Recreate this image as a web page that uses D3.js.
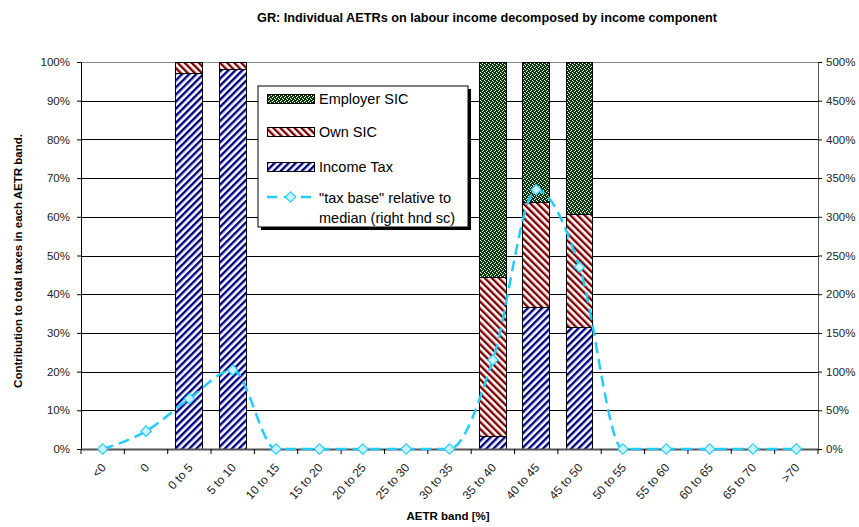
<!DOCTYPE html>
<html>
<head>
<meta charset="utf-8">
<script src="https://cdn.jsdelivr.net/npm/d3@7"></script>
<style>
  body { margin: 0; background: #fff; }
  svg { font-family: "Liberation Sans", Arial, sans-serif; }
</style>
</head>
<body>
<div id="chart"></div>
<script>
// data
var bands = ["<0", "0", "0 to 5", "5 to 10", "10 to 15", "15 to 20", "20 to 25", "25 to 30",
  "30 to 35", "35 to 40", "40 to 45", "45 to 50", "50 to 55", "55 to 60", "60 to 65", "65 to 70", ">70"];
var incomeTax   = [0, 0, 0.97, 0.98, 0, 0, 0, 0, 0, 0.032, 0.366, 0.313, 0, 0, 0, 0, 0];
var ownSIC      = [0, 0, 0.03, 0.02, 0, 0, 0, 0, 0, 0.412, 0.270, 0.292, 0, 0, 0, 0, 0];
var employerSIC = [0, 0, 0, 0, 0, 0, 0, 0, 0, 0.556, 0.364, 0.395, 0, 0, 0, 0, 0];
var taxBase     = [0, 0.23, 0.65, 1.02, 0, 0, 0, 0, 0, 1.15, 3.35, 2.35, 0, 0, 0, 0, 0];
var leftTicks  = [0, 0.1, 0.2, 0.3, 0.4, 0.5, 0.6, 0.7, 0.8, 0.9, 1];
var rightTicks = [0, 0.5, 1, 1.5, 2, 2.5, 3, 3.5, 4, 4.5, 5];

var W = 859, H = 527;
var plotL = 81, plotR = 818, plotT = 62, plotB = 449;

var svg = d3.select("#chart").append("svg")
    .attr("width", W)
    .attr("height", H);

// patterns
var defs = svg.append("defs");

var pTax = defs.append("pattern")
    .attr("id", "pTax")
    .attr("patternUnits", "userSpaceOnUse")
    .attr("width", 5).attr("height", 5)
    .attr("patternTransform", "rotate(45)");
pTax.append("rect").attr("width", 5).attr("height", 5).attr("fill", "#fff");
pTax.append("rect").attr("width", 2.4).attr("height", 5).attr("fill", "#000080");

var pOwn = defs.append("pattern")
    .attr("id", "pOwn")
    .attr("patternUnits", "userSpaceOnUse")
    .attr("width", 5).attr("height", 5)
    .attr("patternTransform", "rotate(-45)");
pOwn.append("rect").attr("width", 5).attr("height", 5).attr("fill", "#fff");
pOwn.append("rect").attr("width", 2.4).attr("height", 5).attr("fill", "#800000");

var pEmp = defs.append("pattern")
    .attr("id", "pEmp")
    .attr("patternUnits", "userSpaceOnUse")
    .attr("width", 4).attr("height", 4);
pEmp.append("rect").attr("width", 4).attr("height", 4).attr("fill", "#0b3a0b");
pEmp.append("rect").attr("x", 0).attr("y", 0).attr("width", 1).attr("height", 1).attr("fill", "#fff");
pEmp.append("rect").attr("x", 1).attr("y", 1).attr("width", 1).attr("height", 1).attr("fill", "#fff");
pEmp.append("rect").attr("x", 3).attr("y", 2).attr("width", 1).attr("height", 1).attr("fill", "#fff");
pEmp.append("rect").attr("x", 2).attr("y", 3).attr("width", 1).attr("height", 1).attr("fill", "#fff");

// scales
var x = d3.scaleBand()
    .domain(bands)
    .range([plotL, plotR])
    .paddingInner(0.38)
    .paddingOuter(0.19);
var step = x.step();
var xc = function (b) { return x(b) + x.bandwidth() / 2; };

var y = d3.scaleLinear().domain([0, 1]).range([plotB, plotT]);
var y2 = d3.scaleLinear().domain([0, 5]).range([plotB, plotT]);

// gridlines
svg.append("g")
  .selectAll("line")
  .data(leftTicks.slice(1))
  .enter()
  .append("line")
    .attr("x1", plotL).attr("x2", plotR)
    .attr("y1", function (d) { return Math.round(y(d)) + 0.5; })
    .attr("y2", function (d) { return Math.round(y(d)) + 0.5; })
    .style("stroke", function (d) { return d === 1 ? "#8a8a8a" : "#000"; })
    .style("stroke-width", 1);

// stacked bars
var rows = bands.map(function (b, i) {
  return { band: b, tax: incomeTax[i], own: ownSIC[i], emp: employerSIC[i] };
});
var stack = d3.stack().keys(["tax", "own", "emp"])(rows);
var fills = { tax: "url(#pTax)", own: "url(#pOwn)", emp: "url(#pEmp)" };

svg.append("g")
  .selectAll("g")
  .data(stack)
  .enter()
  .append("g")
    .attr("fill", function (s) { return fills[s.key]; })
  .selectAll("rect")
  .data(function (s) { return s.filter(function (d) { return d[1] - d[0] > 0; }); })
  .enter()
  .append("rect")
    .attr("x", function (d) { return x(d.data.band); })
    .attr("y", function (d) { return y(d[1]); })
    .attr("width", x.bandwidth())
    .attr("height", function (d) { return y(d[0]) - y(d[1]); })
    .style("stroke", "#000")
    .style("stroke-width", 1)
    .attr("shape-rendering", "crispEdges");

// left axis
var yAxis = svg.append("g")
    .attr("transform", "translate(" + plotL + ",0)")
    .call(d3.axisLeft(y).tickValues(leftTicks).tickFormat(d3.format(".0%")).tickSize(4).tickPadding(7));
yAxis.select(".domain").attr("stroke", "#000");
yAxis.selectAll("text").style("font-size", "11.5px").style("fill", "#222").style("font-family", "Liberation Sans, Arial, sans-serif");

// right axis
var y2Axis = svg.append("g")
    .attr("transform", "translate(" + plotR + ",0)")
    .call(d3.axisRight(y2).tickValues(rightTicks).tickFormat(d3.format(".0%")).tickSize(4).tickPadding(4));
y2Axis.select(".domain").attr("stroke", "#555");
y2Axis.selectAll("text").style("font-size", "11.5px").style("fill", "#222").style("font-family", "Liberation Sans, Arial, sans-serif");

// x axis
var xAxis = svg.append("g")
    .attr("transform", "translate(0," + plotB + ")")
    .call(d3.axisBottom(x).tickSize(0).tickPadding(0));
xAxis.select(".domain").attr("stroke", "#555").attr("stroke-width", 2);
xAxis.selectAll("text")
    .style("font-size", "12px")
    .style("fill", "#222")
    .style("font-family", "Liberation Sans, Arial, sans-serif")
    .attr("text-anchor", "end")
    .attr("y", 0)
    .attr("dy", 0)
    .attr("transform", "translate(4,19) rotate(-48)");

// small ticks between categories
svg.append("g")
  .selectAll("line")
  .data(d3.range(bands.length + 1))
  .enter()
  .append("line")
    .attr("x1", function (i) { return plotL + i * step; })
    .attr("x2", function (i) { return plotL + i * step; })
    .attr("y1", plotB)
    .attr("y2", plotB + 5)
    .style("stroke", "#000");

// tax base line (right axis)
var line = d3.line()
    .x(function (d, i) { return xc(bands[i]); })
    .y(function (d) { return y2(d); })
    .curve(d3.curveMonotoneX);

svg.append("path")
    .datum(taxBase)
    .attr("d", line)
    .style("fill", "none")
    .style("stroke", "#22ccff")
    .style("stroke-width", 2.5)
    .style("stroke-dasharray", "11,6");

svg.append("g")
  .selectAll("path")
  .data(taxBase)
  .enter()
  .append("path")
    .attr("d", d3.symbol().type(d3.symbolSquare).size(55))
    .attr("transform", function (d, i) {
      return "translate(" + xc(bands[i]) + "," + y2(d) + ") rotate(45)";
    })
    .style("fill", "#c8f4ff")
    .style("stroke", "#22ccff")
    .style("stroke-width", 1.2);

// legend
var lg = svg.append("g").attr("transform", "translate(258,86)");
lg.append("rect").attr("x", 3).attr("y", 3).attr("width", 210).attr("height", 141).attr("fill", "#000");
lg.append("rect").attr("width", 210).attr("height", 141).attr("fill", "#fff").style("stroke", "#000");

var legendItems = [["Employer SIC", "url(#pEmp)", 8], ["Own SIC", "url(#pOwn)", 41], ["Income Tax", "url(#pTax)", 76]];
legendItems.forEach(function (it) {
  lg.append("rect")
      .attr("x", 9).attr("y", it[2])
      .attr("width", 47).attr("height", 9)
      .attr("fill", it[1])
      .style("stroke", "#000")
      .attr("shape-rendering", "crispEdges");
  lg.append("text")
      .attr("x", 61).attr("y", it[2] + 10)
      .style("font-size", "14.5px")
      .text(it[0]);
});
lg.append("line")
    .attr("x1", 9).attr("x2", 56)
    .attr("y1", 111).attr("y2", 111)
    .style("stroke", "#22ccff").style("stroke-width", 2.5)
    .style("stroke-dasharray", "10,7");
lg.append("path")
    .attr("d", d3.symbol().type(d3.symbolSquare).size(55))
    .attr("transform", "translate(32.5,111) rotate(45)")
    .style("fill", "#c8f4ff").style("stroke", "#22ccff").style("stroke-width", 1.2);
lg.append("text").attr("x", 61).attr("y", 117).style("font-size", "14.5px").text("\"tax base\" relative to");
lg.append("text").attr("x", 61).attr("y", 137).style("font-size", "14.5px").text("median (right hnd sc)");

// titles
svg.append("text")
    .attr("x", 487).attr("y", 22)
    .attr("text-anchor", "middle")
    .style("font-size", "12.7px")
    .style("font-weight", "bold")
    .text("GR: Individual AETRs on labour income decomposed by income component");

svg.append("text")
    .attr("transform", "translate(22,261) rotate(-90)")
    .attr("text-anchor", "middle")
    .style("font-size", "11.5px")
    .style("font-weight", "bold")
    .text("Contribution to total taxes in each AETR band.");

svg.append("text")
    .attr("x", 448).attr("y", 520)
    .attr("text-anchor", "middle")
    .style("font-size", "11.5px")
    .style("font-weight", "bold")
    .text("AETR band [%]");
</script>
</body>
</html>
